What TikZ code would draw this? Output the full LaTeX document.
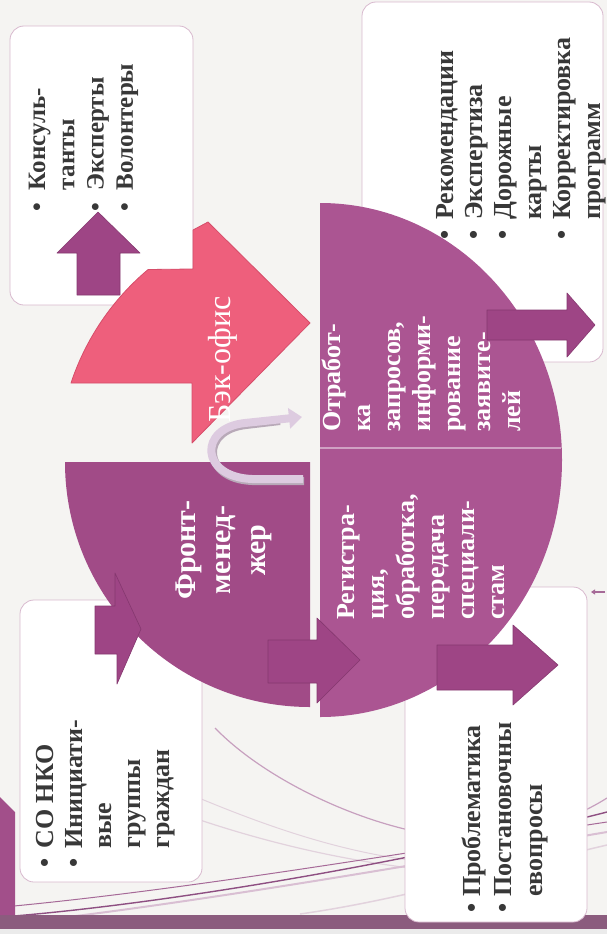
\documentclass[tikz,border=0pt]{standalone}
\usepackage{fontspec}
\setmainfont{Liberation Serif}
\usetikzlibrary{arrows.meta}
\definecolor{bg}{HTML}{F5F4F2}
\definecolor{quad}{HTML}{AB5592}
\definecolor{quadfront}{HTML}{A14B87}
\definecolor{arr}{HTML}{9E4585}
\definecolor{arredge}{HTML}{85386F}
\definecolor{pinkc}{HTML}{EE5F7C}
\definecolor{pinkedge}{HTML}{D64D6A}
\definecolor{boxedge}{HTML}{D8B9CE}
\definecolor{txt}{HTML}{383838}
\definecolor{uarrow}{HTML}{DDCBE0}
\definecolor{ushadow}{HTML}{B8A9B8}
\definecolor{barc}{HTML}{8B5C7E}
\definecolor{leftbar}{HTML}{A24F8A}
\definecolor{decoA}{HTML}{C7A0BF}
\definecolor{decoB}{HTML}{8E4F82}
\definecolor{decoC}{HTML}{A66A98}
\definecolor{decoD}{HTML}{D9BFD3}
\definecolor{decoE}{HTML}{E2D2DD}
\begin{document}
\begin{tikzpicture}[x=1pt,y=-1pt,
  box/.style={fill=white,draw=boxedge,line width=0.8pt,rounded corners=14pt},
  blockarrow/.style={fill=arr,draw=arredge,line width=0.6pt,line join=round},
  btext/.style={rotate=90,anchor=base west,inner sep=0pt,text=txt},
  wtext/.style={rotate=90,inner sep=0pt,text=white},
  deco/.style={line width=1pt}]
\useasboundingbox (0,0) rectangle (607,934);
\fill[bg] (0,0) rectangle (607,934);
% decorative curves
\draw[deco,decoA,line width=1.2pt] (215,728) .. controls (280,795) and (420,850) .. (500,836) .. controls (550,828) and (585,812) .. (607,798);
\draw[deco,decoE,line width=1.2pt] (200,820) .. controls (260,840) and (330,858) .. (410,868);
\draw[deco,decoE] (180,790) .. controls (250,820) and (330,850) .. (410,860);
\draw[deco,decoB,line width=1.4pt] (14,916) .. controls (180,902) and (420,860) .. (607,812);
\draw[deco,decoC] (14,906) .. controls (200,888) and (420,850) .. (607,822);
\draw[deco,decoD,line width=2pt] (60,918) .. controls (230,897) and (430,862) .. (607,832);
\draw[deco,decoE,line width=1.5pt] (300,914) .. controls (400,900) and (500,870) .. (607,845);
% bars
\fill[barc] (0,915) rectangle (607,929);
\fill[black!8] (0,929) rectangle (607,934);
\fill[leftbar] (0,797) -- (15,812) -- (15,915) -- (0,915) -- cycle;
% boxes
\draw[box] (10,26) rectangle (193,305);
\draw[box] (362,2) rectangle (603,362);
\draw[box] (20,600) rectangle (202,882);
\draw[box] (405,587) rectangle (587,922);
% box texts
\node[btext,font=\bfseries\fontsize{25}{29.3}\selectfont] (consult) at (45,212)
  {\begin{tabular}[t]{@{}l@{\hspace{13pt}}l@{}}•&Консуль-\\&танты\\•&Эксперты\\•&Волонтеры\end{tabular}};
\node[btext,font=\bfseries\fontsize{26}{29.4}\selectfont] (recom) at (453,240)
  {\begin{tabular}[t]{@{}l@{\hspace{11pt}}l@{}}•&Рекомендации\\•&Экспертиза\\•&Дорожные\\&карты\\•&Корректировка\\&программ\end{tabular}};
\node[btext,font=\bfseries\fontsize{26}{29}\selectfont] (sonko) at (53,868)
  {\begin{tabular}[t]{@{}l@{\hspace{10pt}}l@{}}•&СО НКО\\•&Инициати-\\&вые\\&группы\\&граждан\end{tabular}};
\node[btext,font=\bfseries\fontsize{26}{31}\selectfont] (problem) at (480,913)
  {\begin{tabular}[t]{@{}l@{\hspace{7pt}}l@{}}•&Проблематика\\•&Постановочны\\&евопросы\end{tabular}};
% up arrow in consultants box
\draw[blockarrow] (77,295) -- (77,253) -- (57,253) -- (98,212) -- (140,253) -- (120,253) -- (120,295) -- cycle;
% pink back-office arrow
\draw[fill=pinkc,draw=pinkedge,line width=0.8pt,line join=round]
  (192,383) -- (71,383) arc[start angle=198.4,end angle=230,radius=252]
  -- (193,269) -- (193,230) -- (208,222) -- (310,323) -- (192,443) -- cycle;
% quadrants
\fill[quadfront] (310,462) -- (65,462) arc[start angle=180,end angle=90,radius=245] -- cycle;
\fill[quad] (320,717) -- (320,203) arc[start angle=270,end angle=450,x radius=242,y radius=257] -- cycle;
\draw[white,opacity=0.45,line width=2pt] (320,448) -- (561,448);
% quadrant texts
\node[wtext,font=\fontsize{32}{36}\selectfont,anchor=base west] (back) at (230,423) {Бэк-офис};
\node[wtext,font=\bfseries\fontsize{30}{35}\selectfont,align=center] (front) at (224,550) {Фронт-\\менед-\\жер};
\node[wtext,font=\bfseries\fontsize{26}{30}\selectfont,align=left,anchor=north west] (otrab) at (322,432)
  {Отработ-\\ка\\запросов,\\информи-\\рование\\заявите-\\лей};
\node[wtext,font=\bfseries\fontsize{26}{30}\selectfont,align=left,anchor=north west] (regis) at (337,620)
  {Регистра-\\ция,\\обработка,\\передача\\специали-\\стам};
% block arrows
\draw[blockarrow] (95,606) -- (115,606) -- (115,573) -- (141,629) -- (117,684) -- (117,654) -- (95,654) -- cycle;
\draw[blockarrow] (268,640) -- (317,640) -- (317,618) -- (360,660) -- (317,703) -- (317,683) -- (268,683) -- cycle;
\draw[blockarrow] (437,645) -- (513,645) -- (513,625) -- (558,665) -- (513,705) -- (513,690) -- (437,690) -- cycle;
\draw[blockarrow] (487,310) -- (567,310) -- (567,293) -- (595,325) -- (567,357) -- (567,340) -- (487,340) -- cycle;
% U-turn arrow
\draw[ushadow,line width=8pt] (304,481) -- (252,481) .. controls (202,479) and (200,430) .. (246,425) -- (280,421);
\draw[uarrow,line width=8pt,-{Triangle[length=13pt,width=20pt]}] (303,479) -- (252,479) .. controls (200,477) and (198,428) .. (245,423) -- (302,417);
% tiny mark at right
\draw[decoC,line width=1.2pt,-{Triangle[length=4pt,width=5pt]}] (605,592) -- (591,592);
\end{tikzpicture}
\end{document}
